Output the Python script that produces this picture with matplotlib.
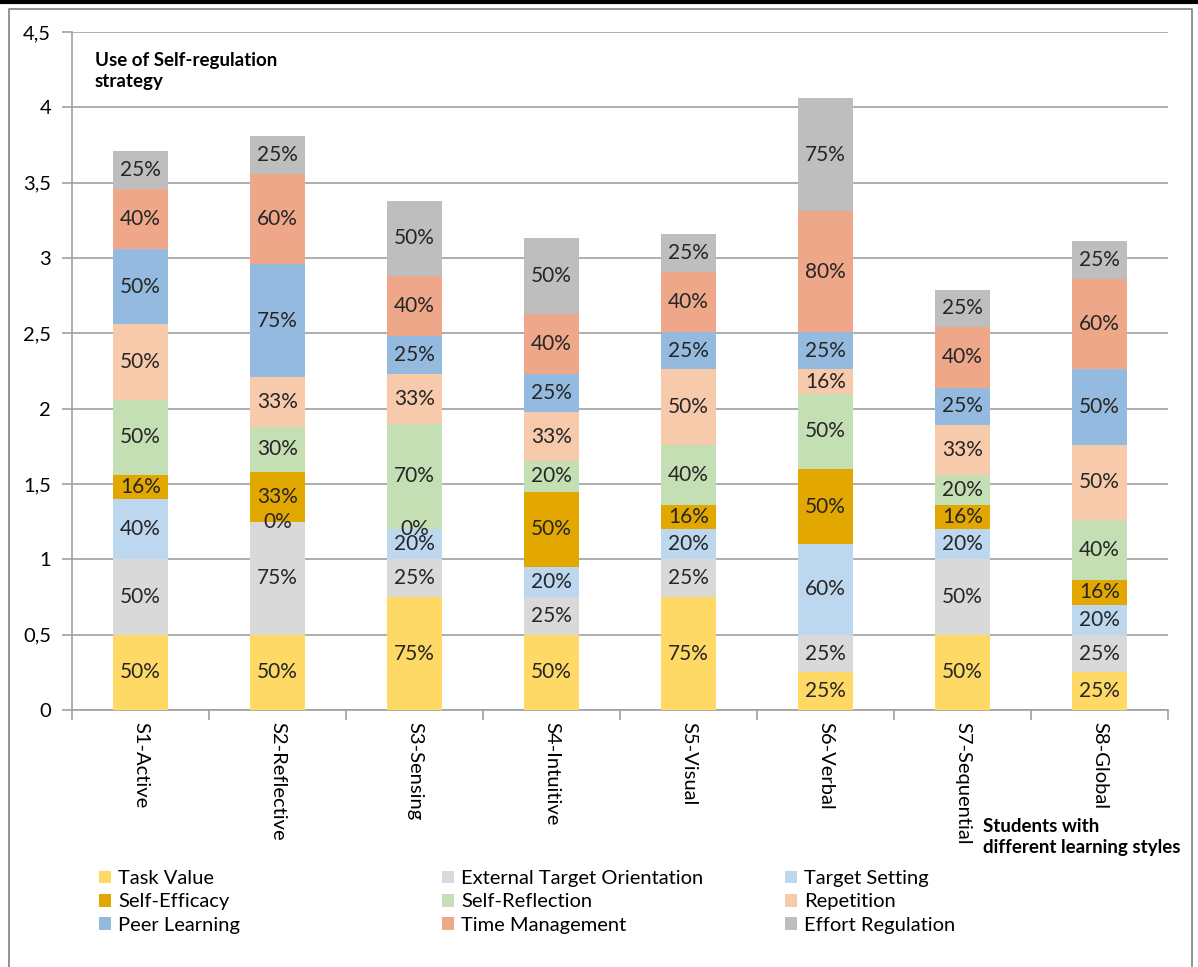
import numpy as np
import matplotlib.pyplot as plt
from matplotlib.patches import Patch
from matplotlib.lines import Line2D
from matplotlib.ticker import FuncFormatter, FixedLocator

plt.rcParams['font.family'] = ['Lato', 'DejaVu Sans']

students = ["S1-Active", "S2-Reflective", "S3-Sensing", "S4-Intuitive",
            "S5-Visual", "S6-Verbal", "S7-Sequential", "S8-Global"]

task_value = [0.50, 0.50, 0.75, 0.50, 0.75, 0.25, 0.50, 0.25]
external_target = [0.50, 0.75, 0.25, 0.25, 0.25, 0.25, 0.50, 0.25]
target_setting = [0.40, 0.00, 0.20, 0.20, 0.20, 0.60, 0.20, 0.20]
self_efficacy = [0.16, 0.33, 0.00, 0.50, 0.16, 0.50, 0.16, 0.16]
self_reflection = [0.50, 0.30, 0.70, 0.20, 0.40, 0.50, 0.20, 0.40]
repetition = [0.50, 0.33, 0.33, 0.33, 0.50, 0.16, 0.33, 0.50]
peer_learning = [0.50, 0.75, 0.25, 0.25, 0.25, 0.25, 0.25, 0.50]
time_management = [0.40, 0.60, 0.40, 0.40, 0.40, 0.80, 0.40, 0.60]
effort_regulation = [0.25, 0.25, 0.50, 0.50, 0.25, 0.75, 0.25, 0.25]

series = [
    ("Task Value", task_value, "#FFD965"),
    ("External Target Orientation", external_target, "#D9D9D9"),
    ("Target Setting", target_setting, "#BDD7EE"),
    ("Self-Efficacy", self_efficacy, "#E2A800"),
    ("Self-Reflection", self_reflection, "#C5DFB4"),
    ("Repetition", repetition, "#F8CAAC"),
    ("Peer Learning", peer_learning, "#95BAE0"),
    ("Time Management", time_management, "#EEA889"),
    ("Effort Regulation", effort_regulation, "#BEBEBE"),
]

fig = plt.figure(figsize=(11.98, 9.67), dpi=100)
ax = fig.add_axes([72 / 1198, 1 - 710 / 967, (1168 - 72) / 1198, (710 - 32) / 967])

x = np.arange(len(students))
bottom = np.zeros(len(students))
handles = {}
for name, vals, col in series:
    vals = np.array(vals)
    ax.bar(x, vals, 0.4, bottom=bottom, color=col, zorder=3)
    for xi, b, v in zip(x, bottom, vals):
        ax.text(xi, b + v / 2, "%d%%" % round(v * 100), ha='center', va='center',
                fontsize=15, color='#262626', zorder=4)
    bottom = bottom + vals
    handles[name] = Patch(facecolor=col, edgecolor='none')

ax.set_xlim(-0.5, len(students) - 0.5)
ax.set_ylim(0, 4.5)
ax.yaxis.set_major_locator(FixedLocator(np.arange(0, 4.51, 0.5)))
ax.yaxis.set_major_formatter(FuncFormatter(lambda v, p: ("%g" % v).replace('.', ',')))
ax.grid(axis='y', color='#A0A0A0', linewidth=1.2, zorder=0)
for s in ['top', 'right']:
    ax.spines[s].set_visible(False)
for s in ['left', 'bottom']:
    ax.spines[s].set_color('#A0A0A0')
    ax.spines[s].set_linewidth(1.2)

ax.set_xticks(np.arange(-0.5, len(students), 1.0))
ax.set_xticklabels([])
ax.set_xticks(x, minor=True)
ax.set_xticklabels(students, minor=True, rotation=270, fontsize=14.5)
ax.tick_params(axis='x', which='major', length=7, color='#A0A0A0', width=1.2)
ax.tick_params(axis='x', which='minor', length=0, pad=9)
ax.tick_params(axis='y', length=7, color='#A0A0A0', width=1.2, labelsize=14.5, pad=8)

fig.text(95 / 1198, 1 - 52 / 967, "Use of Self-regulation\nstrategy", fontsize=13.5,
         fontweight='bold', va='top', ha='left', linespacing=1.25)
fig.text(983 / 1198, 1 - 818 / 967, "Students with\ndifferent learning styles", fontsize=13.5,
         fontweight='bold', va='top', ha='left', linespacing=1.25)

cols = [["Task Value", "Self-Efficacy", "Peer Learning"],
        ["External Target Orientation", "Self-Reflection", "Time Management"],
        ["Target Setting", "Repetition", "Effort Regulation"]]
for i, names in enumerate(cols):
    fig.legend([handles[n] for n in names], names, loc='upper left',
               bbox_to_anchor=((99 + 343 * i) / 1198, 1 - 870 / 967),
               frameon=False, fontsize=14.5, handlelength=0.6, handleheight=0.6,
               handletextpad=0.35, labelspacing=0.32, borderpad=0, borderaxespad=0)

# outer frame
fig.add_artist(Line2D([0, 1], [1 - 1.5 / 967] * 2, color='black', linewidth=3,
                      transform=fig.transFigure))
fig.add_artist(Line2D([9 / 1198, 9 / 1198, 1192 / 1198, 1192 / 1198],
                      [0, 1 - 9 / 967, 1 - 9 / 967, 0],
                      color='#808080', linewidth=1.2, transform=fig.transFigure))

fig.savefig("out.png", dpi=100)
